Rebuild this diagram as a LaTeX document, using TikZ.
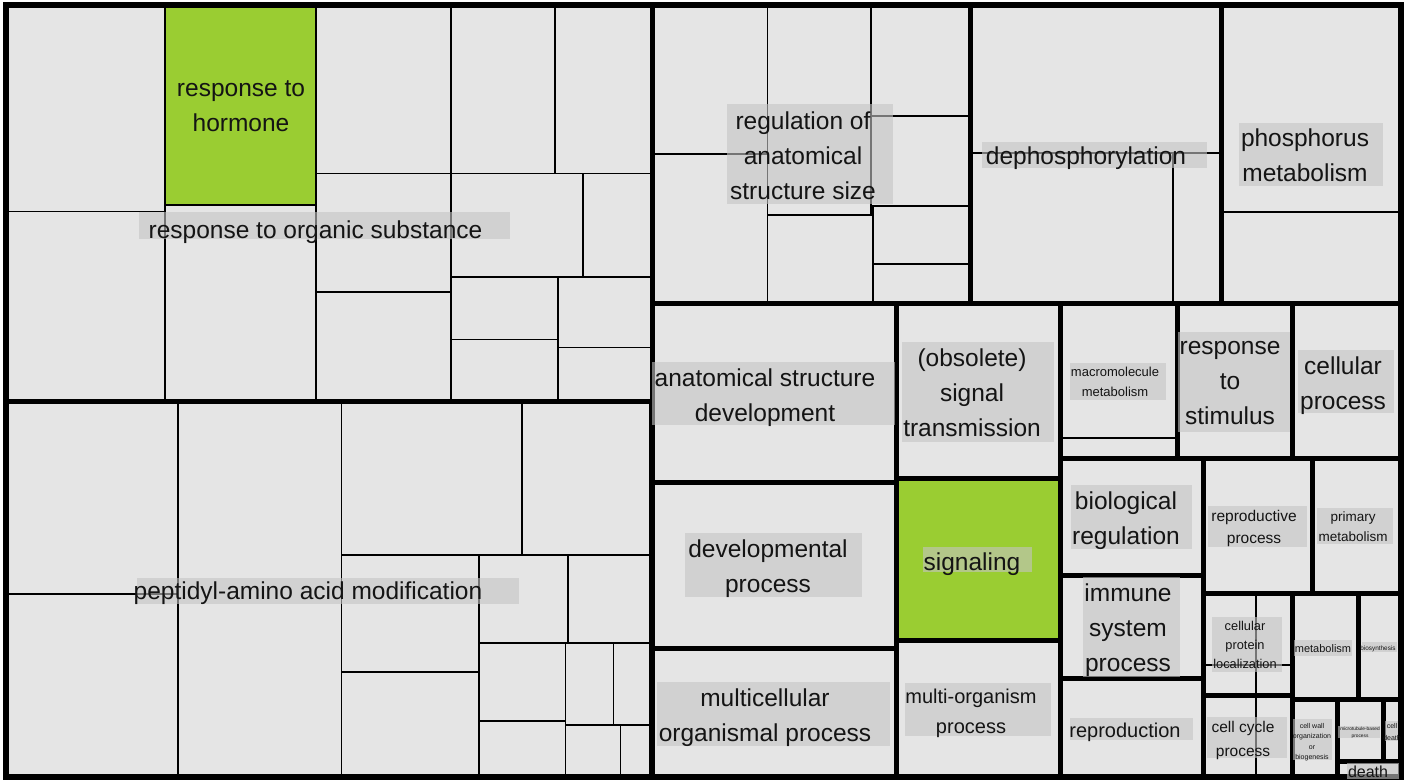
\documentclass[tikz,border=0pt]{standalone}
\usepackage{fontspec}
\setmainfont{Liberation Sans}
\definecolor{cellgray}{HTML}{E5E5E5}
\definecolor{hitgreen}{HTML}{9ACD32}
\definecolor{bargray}{HTML}{C4C4C4}
\definecolor{inkcol}{HTML}{141414}
\newcommand\tmstrut{\vphantom{Ag}}
\newcommand\tmfont[2]{\fontsize{#1}{#2}\selectfont}
\newcommand\tmcell[4]{\path[cellbox] (#1,#2) rectangle (#3,#4);}
\newcommand\tmgrn[4]{\path[greenbox] (#1,#2) rectangle (#3,#4);}
\newcommand\tmgrp[4]{\path[grpbox] (#1,#2) rectangle (#3,#4);}
\newcommand\tmbar[4]{\path[barfill] (#1,#2) rectangle (#3,#4);}
\begin{document}
\begin{tikzpicture}[x=1pt,y=-1pt,
  cellbox/.style={fill=cellgray,draw=black,line width=1.8pt},
  greenbox/.style={fill=hitgreen,draw=black,line width=1.8pt},
  grpbox/.style={draw=black,line width=5pt},
  outerbox/.style={draw=black,line width=6pt},
  barfill/.style={fill=bargray,fill opacity=0.6},
  lbl/.style={text=inkcol,align=center,inner sep=0pt,yshift=-1.5pt,
    execute at begin node=\tmstrut,execute at end node=\tmstrut},
  big/.style={lbl,yshift=-1.5pt,font=\tmfont{24.5}{35}},
  mid/.style={lbl,yshift=-1pt,font=\tmfont{20}{30}}]
\useasboundingbox (0,0) rectangle (1404,779);
\fill[white] (0,0) rectangle (1404,779);
% ---- response to organic substance group
\tmcell{5}{5}{165}{211.5}
\tmcell{5}{211.5}{165}{401}
\tmgrn{165}{5}{316}{205}
\tmcell{165}{205}{316}{401}
\tmcell{316}{5}{451}{173.5}
\tmcell{451}{5}{555}{173.5}
\tmcell{555}{5}{652}{173.5}
\tmcell{316}{173.5}{451}{292}
\tmcell{316}{292}{451}{401}
\tmcell{451}{173.5}{583}{277}
\tmcell{583}{173.5}{652}{277}
\tmcell{451}{277}{558}{339.5}
\tmcell{451}{339.5}{558}{401}
\tmcell{558}{277}{652}{347.5}
\tmcell{558}{347.5}{652}{401}
% ---- peptidyl-amino acid modification group
\tmcell{5}{401}{178}{594}
\tmcell{5}{594}{178}{778}
\tmcell{178}{401}{341.5}{778}
\tmcell{341.5}{401}{522}{555}
\tmcell{522}{401}{651}{555}
\tmcell{341.5}{555}{479}{672}
\tmcell{341.5}{672}{479}{778}
\tmcell{479}{555}{568}{643}
\tmcell{568}{555}{651}{643}
\tmcell{479}{643}{565.5}{721}
\tmcell{479}{721}{565.5}{778}
\tmcell{565.5}{643}{613.5}{725}
\tmcell{613.5}{643}{651}{725}
\tmcell{565.5}{725}{620.5}{778}
\tmcell{620.5}{725}{651}{778}
% ---- regulation of anatomical structure size
\tmcell{652}{5}{767.5}{154}
\tmcell{652}{154}{767.5}{303}
\tmcell{767.5}{5}{871}{215}
\tmcell{767.5}{215}{873}{303}
\tmcell{871}{5}{970}{116}
\tmcell{871}{116}{970}{206}
\tmcell{873}{206}{970}{264}
\tmcell{873}{264}{970}{303}
% ---- dephosphorylation
\tmcell{970}{5}{1221}{153}
\tmcell{970}{153}{1173}{303}
\tmcell{1173}{153}{1221}{303}
% ---- phosphorus metabolism
\tmcell{1221}{5}{1401}{212}
\tmcell{1221}{212}{1401}{303}
% ---- middle and right
\tmcell{652}{303}{896}{482}
\tmcell{652}{482}{896}{648}
\tmcell{652}{648}{896}{778}
\tmcell{896}{303}{1060}{478}
\tmgrn{896}{478}{1060}{640}
\tmcell{896}{640}{1060}{778}
\tmcell{1060}{303}{1177}{438}
\tmcell{1060}{438}{1177}{458}
\tmcell{1177}{303}{1292}{458}
\tmcell{1292}{303}{1401}{458}
\tmcell{1060}{458}{1203}{575}
\tmcell{1060}{575}{1203}{678}
\tmcell{1060}{678}{1203}{778}
\tmcell{1203}{458}{1312}{593}
\tmcell{1312}{458}{1401}{593}
\tmcell{1203}{593}{1256}{665}
\tmcell{1256}{593}{1292}{665}
\tmcell{1203}{665}{1256}{695}
\tmcell{1256}{665}{1292}{695}
\tmcell{1203}{695}{1256}{778}
\tmcell{1256}{695}{1292}{778}
\tmcell{1292}{593}{1358}{699}
\tmcell{1358}{593}{1401}{699}
\tmcell{1292}{699}{1337}{778}
\tmcell{1337}{699}{1383}{761}
\tmcell{1383}{699}{1401}{761}
\tmcell{1337}{761}{1401}{778}
% ---- group borders
\tmgrp{5}{5}{652}{401}
\tmgrp{5}{401}{651}{778}
\tmgrp{652}{5}{970}{303}
\tmgrp{970}{5}{1221}{303}
\tmgrp{1221}{5}{1401}{303}
\tmgrp{652}{303}{896}{482}
\tmgrp{652}{482}{896}{648}
\tmgrp{652}{648}{896}{778}
\tmgrp{896}{303}{1060}{478}
\tmgrp{896}{478}{1060}{640}
\tmgrp{896}{640}{1060}{778}
\tmgrp{1060}{303}{1177}{458}
\tmgrp{1177}{303}{1292}{458}
\tmgrp{1292}{303}{1401}{458}
\tmgrp{1060}{458}{1203}{575}
\tmgrp{1060}{575}{1203}{678}
\tmgrp{1060}{678}{1203}{778}
\tmgrp{1203}{458}{1312}{593}
\tmgrp{1312}{458}{1401}{593}
\tmgrp{1203}{593}{1292}{695}
\tmgrp{1203}{695}{1292}{778}
\tmgrp{1292}{593}{1358}{699}
\tmgrp{1358}{593}{1401}{699}
\tmgrp{1292}{699}{1337}{778}
\tmgrp{1337}{699}{1383}{761}
\tmgrp{1383}{699}{1401}{761}
\tmgrp{1337}{761}{1401}{778}
\path[outerbox] (6,5) rectangle (1401,777);
% ---- label bars
\tmbar{139}{212}{510}{238.5}
\tmbar{137}{577.5}{519}{603.5}
\tmbar{727}{104}{893}{204}
\tmbar{982}{142}{1207}{168}
\tmbar{1239}{123}{1383}{186}
\tmbar{652}{362}{895}{425}
\tmbar{902}{342}{1054}{442}
\tmbar{685}{533}{862}{597}
\tmbar{923}{547}{1032}{572}
\tmbar{657}{682}{890}{746}
\tmbar{905}{683}{1051}{736}
\tmbar{1070}{363}{1166}{400}
\tmbar{1178}{332}{1290}{432}
\tmbar{1298}{350}{1394}{413}
\tmbar{1071}{485}{1192}{549}
\tmbar{1208}{506}{1307}{547}
\tmbar{1317}{508}{1393}{544}
\tmbar{1083}{577}{1180}{677}
\tmbar{1070}{718}{1193}{740}
\tmbar{1212}{617}{1282}{672}
\tmbar{1294}{640}{1352}{656}
\tmbar{1362}{642}{1397}{652}
\tmbar{1207}{717}{1287}{758}
\tmbar{1293}{719}{1332}{760}
\tmbar{1338}{726}{1380}{738}
\tmbar{1385}{721}{1398}{741}
\tmbar{1347}{763}{1399}{779}
% ---- labels
\node[big] (rth) at (241,105.5) {response to\\hormone};
\node[big] (ros) at (315.5,229) {response to organic substance};
\node[big] (pam) at (308,590) {peptidyl-amino acid modification};
\node[big] (ras) at (803,155) {regulation of\\anatomical\\structure size};
\node[big] (dep) at (1086,155) {dephosphorylation};
\node[big] (phm) at (1305,155) {phosphorus\\metabolism};
\node[big] (asd) at (765,394.5) {anatomical structure\\development};
\node[big] (ost) at (972,392.5) {(obsolete)\\signal\\transmission};
\node[big] (dvp) at (768,565.5) {developmental\\process};
\node[big] (sig) at (972,561) {signaling};
\node[big] (mop) at (765,715) {multicellular\\organismal process};
\node[mid] (mor) at (971,711) {multi-organism\\process};
\node[lbl,font=\tmfont{13}{20}] (mmm) at (1115,382) {macromolecule\\metabolism};
\node[big] (rts) at (1230,382.5) {response\\to\\stimulus};
\node[big] (cep) at (1343,383) {cellular\\process};
\node[big] (bir) at (1126,517.5) {biological\\regulation};
\node[lbl,font=\tmfont{15.5}{22}] (rpp) at (1254,527) {reproductive\\process};
\node[lbl,font=\tmfont{13.5}{20}] (prm) at (1353,527) {primary\\metabolism};
\node[big] (isp) at (1128,627.5) {immune\\system\\process};
\node[mid] (rep) at (1125,730) {reproduction};
\node[lbl,font=\tmfont{12.8}{19}] (cpl) at (1245,645) {cellular\\protein\\localization};
\node[lbl,font=\tmfont{11}{14}] (met) at (1323,648) {metabolism};
\node[lbl,font=\tmfont{6.4}{8}] (bio) at (1378,647) {biosynthesis};
\node[lbl,font=\tmfont{15.5}{24}] (ccp) at (1243,739) {cell cycle\\process};
\node[lbl,font=\tmfont{7}{10.5}] (cwo) at (1312,740.5) {cell wall\\organization\\or\\biogenesis};
\node[lbl,font=\tmfont{4.8}{7}] (mtb) at (1360,731) {microtubule-based\\process};
\node[lbl,font=\tmfont{7}{12}] (cde) at (1392,731) {cell\\death};
\node[lbl,font=\tmfont{16}{20}] (dth) at (1368,772) {death};
\end{tikzpicture}
\end{document}
